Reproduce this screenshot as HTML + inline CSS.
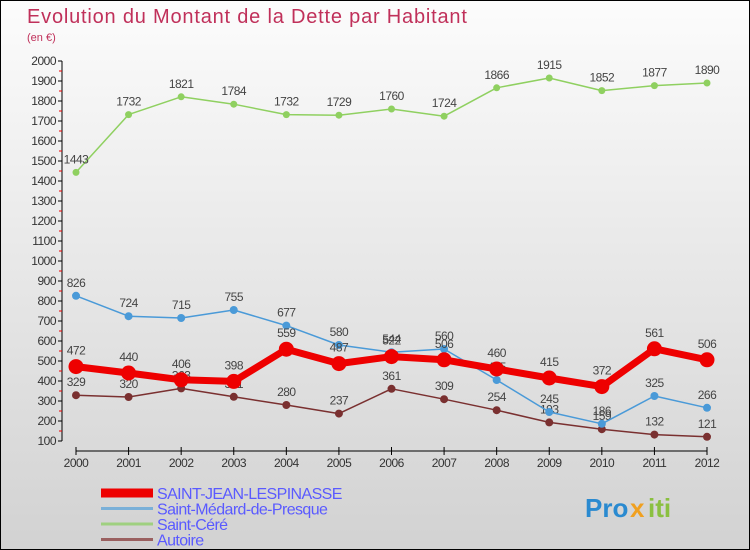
<!DOCTYPE html>
<html><head><meta charset="utf-8"><style>
body{margin:0}
#c{width:750px;height:550px;position:relative;box-sizing:border-box;border:1px solid #000;background:linear-gradient(#fcfcfc,#d2d2d2);font-family:"Liberation Sans",sans-serif;overflow:hidden}
</style></head><body>
<div id="c">
<svg id="s" width="750" height="550" style="position:absolute;left:0;top:0">
<text x="26" y="22" font-size="20" fill="#c0305a" letter-spacing="0.8">Evolution du Montant de la Dette par Habitant</text>
<text x="26" y="40" font-size="11" fill="#c0305a">(en €)</text>
<line x1="61" y1="60" x2="61" y2="440" stroke="#000"/>
<line x1="75" y1="450" x2="706" y2="450" stroke="#000"/>
<g id="g"></g>
<g font-family="Liberation Sans" font-size="26" font-weight="bold">
<text x="584" y="516" fill="#2a8ad0">Pro</text><text x="629" y="516" fill="#f0a020">x</text><text x="647" y="516" fill="#8ac040">iti</text>
</g>
</svg>
</div>
<script>
const years=[2000,2001,2002,2003,2004,2005,2006,2007,2008,2009,2010,2011,2012];
const sjl=[472,440,406,398,559,487,522,506,460,415,372,561,506];
const medard=[826,724,715,755,677,580,544,560,405,245,186,325,266];
const cere=[1443,1732,1821,1784,1732,1729,1760,1724,1866,1915,1852,1877,1890];
const autoire=[329,320,363,321,280,237,361,309,254,193,159,132,121];
const yTicks=[100,200,300,400,500,600,700,800,900,1000,1100,1200,1300,1400,1500,1600,1700,1800,1900,2000];
const NS="http://www.w3.org/2000/svg";
const g=document.getElementById('g');
const X=i=>75+i*(706-75)/12;
const Y=v=>440-(v-100)*0.2;
function mk(t,a,p){const e=document.createElementNS(NS,t);for(const k in a)e.setAttribute(k,a[k]);(p||g).appendChild(e);return e;}
yTicks.forEach(v=>{
 const t=mk('line',{x1:57,x2:61,y1:Y(v),y2:Y(v),stroke:'#000'});
 
 
 if(v<2000){const m=mk('line',{x1:58,x2:61,y1:Y(v+50),y2:Y(v+50),stroke:'#e00'});
 
 }
 const l=mk('text',{x:55,y:Y(v)+4,'text-anchor':'end','font-size':12,fill:'#333','letter-spacing':'-0.5'});
 l.textContent=v;
 
 
});
years.forEach((y,i)=>{
 const t=mk('line',{x1:X(i),x2:X(i),y1:446,y2:454,stroke:'#000'});
 
 
 const l=mk('text',{x:X(i),y:466,'text-anchor':'middle','font-size':12,fill:'#333','letter-spacing':'-0.5'});
 l.textContent=y;
 
 
});
function series(vals,color,w,r,name){
 const p=mk('polyline',{points:vals.map((v,i)=>X(i)+','+Y(v)).join(' '),fill:'none',stroke:color,'stroke-width':w,'stroke-linejoin':'round'});
 
 
 vals.forEach((v,i)=>{
  const c=mk('circle',{cx:X(i),cy:Y(v),r:r,fill:color});
  
  
  const t=mk('text',{x:X(i),y:Y(v)-9-(r>5?3:0),'text-anchor':'middle','font-size':12,fill:'#444','letter-spacing':'-0.5'});
  t.textContent=v;
  
  
 });
}
series(cere,'#8fd060',1.5,3.5,'saint-cere');
series(autoire,'#7a3030',1.5,4,'autoire');
series(medard,'#4a9ad8',1.5,4,'saint-medard');
series(sjl,'#ee0000',7,7.5,'saint-jean-lespinasse');
const legNames=['SAINT-JEAN-LESPINASSE','Saint-Médard-de-Presque','Saint-Céré','Autoire'];
const legColors=['#ee0000','#7ab0d8','#9fd080','#9a6060'];
const legW=[9,3,3,3];
legNames.forEach((n,i)=>{
 const y=492+i*15.5;
 const l=mk('line',{x1:100,x2:152,y1:y,y2:y,stroke:legColors[i],'stroke-width':legW[i]});
 
 
 const t=mk('text',{x:156,y:y+6,'font-size':16,fill:'#5a5aff','letter-spacing':'-0.6'});
 t.textContent=n;
 
 
});
</script>
</body></html>
